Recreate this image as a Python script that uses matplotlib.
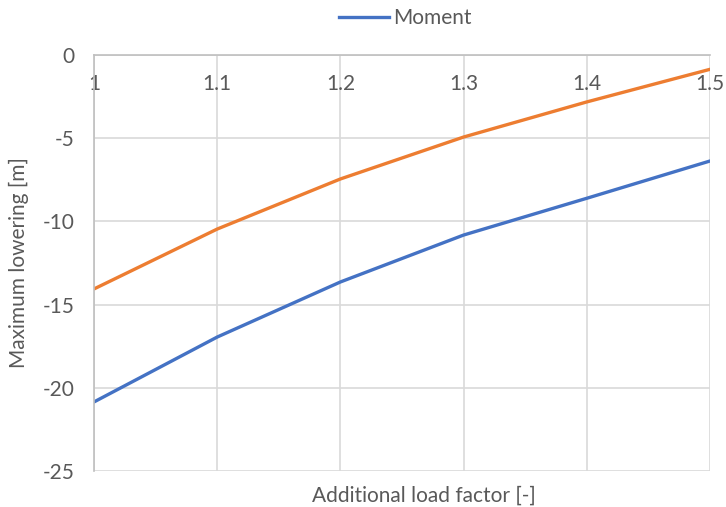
import matplotlib.pyplot as plt
from matplotlib.lines import Line2D

load_factor = [1.0, 1.1, 1.2, 1.3, 1.4, 1.5]
moment = [-20.85, -16.95, -13.64, -10.82, -8.61, -6.37]
other = [-14.06, -10.46, -7.45, -4.93, -2.82, -0.86]

plt.rcParams['font.family'] = ['Lato', 'DejaVu Sans']
plt.rcParams['axes.unicode_minus'] = False
grey_text = '#595959'
grid_col = '#d9d9d9'
fs = 15

fig = plt.figure(figsize=(7.26, 5.07), dpi=100)
ax = fig.add_axes([94 / 726, 36 / 507, 616 / 726, 416 / 507])

ax.plot(load_factor, moment, color='#4472C4', lw=2.4, solid_capstyle='round')
ax.plot(load_factor, other, color='#ED7D31', lw=2.4, solid_capstyle='round')

ax.set_xlim(1.0, 1.5)
ax.set_ylim(-25, 0)
ax.set_xticks(load_factor)
ax.set_xticklabels(['1', '1.1', '1.2', '1.3', '1.4', '1.5'])
ax.set_yticks([0, -5, -10, -15, -20, -25])
ax.grid(True, color=grid_col, lw=1.2)
ax.set_axisbelow(True)

# x axis crosses at y = 0, labels sit under it inside the plot
ax.spines['bottom'].set_position(('data', 0))
ax.spines['bottom'].set_color('#bfbfbf')
ax.spines['bottom'].set_linewidth(1.2)
ax.spines['left'].set_color('#bfbfbf')
ax.spines['left'].set_linewidth(1.2)
ax.spines['top'].set_visible(False)
ax.spines['right'].set_visible(False)
ax.tick_params(length=0, labelsize=fs, colors=grey_text)
ax.tick_params(axis='x', pad=14)
ax.tick_params(axis='y', pad=14)

ax.set_xlabel('Additional load factor [-]', fontsize=fs, color=grey_text)
ax.xaxis.set_label_coords(0.535, -0.036)
ax.set_ylabel('Maximum lowering [m]', fontsize=fs, color=grey_text)
ax.yaxis.set_label_coords(-0.105, 0.5)

handle = Line2D([], [], color='#4472C4', lw=2.4)
leg = fig.legend([handle], ['Moment'], loc='center', bbox_to_anchor=(405 / 726, 1 - 18 / 507),
                 frameon=False, fontsize=fs, handlelength=2.4, handletextpad=0.2)
for t in leg.get_texts():
    t.set_color(grey_text)

fig.savefig('out.png', dpi=100)
